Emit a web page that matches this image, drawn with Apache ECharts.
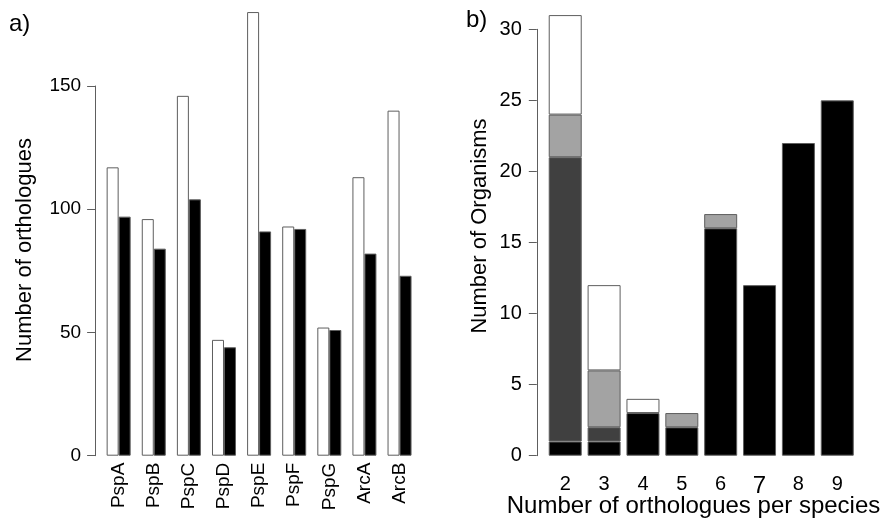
<!DOCTYPE html>
<html>
<head>
<meta charset="utf-8">
<script src="https://cdn.jsdelivr.net/npm/echarts@6/dist/echarts.min.js"></script>
<style>
html,body{margin:0;padding:0;background:#fff;}
#chart{width:889px;height:519px;}
</style>
</head>
<body>
<div id="chart"></div>
<script>
// Panel a) data
const proteinNames = ['PspA','PspB','PspC','PspD','PspE','PspF','PspG','ArcA','ArcB'];
const whiteCounts = [117, 96, 146, 47, 180, 93, 52, 113, 140];
const blackCounts = [97, 84, 104, 44, 91, 92, 51, 82, 73];
const leftTicks = [0, 50, 100, 150];

// Panel b) data (stacked, bottom to top)
const orthoPerSpecies = ['2','3','4','5','6','7','8','9'];
const segBlack = [1, 1, 3, 2, 16, 12, 22, 25];
const segDarkGray = [20, 1, null, null, null, null, null, null];
const segLightGray = [3, 4, null, 1, 1, null, null, null];
const segWhite = [7, 6, 1, null, null, null, null, null];
const rightTicks = [0, 5, 10, 15, 20, 25, 30];

const FONT = '"Liberation Sans", Arial, Helvetica, sans-serif';
const EDGE = '#5e5e5e';

const chart = echarts.init(document.getElementById('chart'), null, {renderer: 'canvas'});

function barStyle(color) {
  return {color: color, borderColor: EDGE, borderWidth: 1};
}

const option = {
  animation: false,
  backgroundColor: '#ffffff',
  textStyle: {fontFamily: FONT},
  grid: [
    {left: 101.1, width: 316, top: 86, height: 369.7},
    {left: 545.8, width: 310.9, top: 29.3, height: 426.4}
  ],
  xAxis: [
    {
      type: 'category', gridIndex: 0, data: proteinNames,
      axisLine: {show: false}, axisTick: {show: false},
      axisLabel: {interval: 0, rotate: 90, margin: 7, fontSize: 19, color: '#000', fontFamily: FONT}
    },
    {
      type: 'category', gridIndex: 1, data: orthoPerSpecies,
      axisLine: {show: false}, axisTick: {show: false},
      axisLabel: {
        interval: 0, margin: 19, fontSize: 20, color: '#000', fontFamily: FONT,
        formatter: function (v) { return v === '7' ? '{big|' + v + '}' : v; },
        rich: {big: {fontSize: 24, color: '#000', fontFamily: FONT}}
      }
    }
  ],
  yAxis: [
    {
      type: 'value', gridIndex: 0, min: leftTicks[0], max: leftTicks[leftTicks.length - 1], interval: 50,
      offset: 6,
      splitLine: {show: false},
      axisLine: {show: true, lineStyle: {color: EDGE, width: 1}},
      axisTick: {show: true, length: 8, lineStyle: {color: EDGE, width: 1}},
      axisLabel: {margin: 14, fontSize: 19, color: '#000', fontFamily: FONT}
    },
    {
      type: 'value', gridIndex: 1, min: rightTicks[0], max: rightTicks[rightTicks.length - 1], interval: 5,
      offset: 9,
      splitLine: {show: false},
      axisLine: {show: true, lineStyle: {color: EDGE, width: 1}},
      axisTick: {show: true, length: 8, lineStyle: {color: EDGE, width: 1}},
      axisLabel: {margin: 15, fontSize: 20, color: '#000', fontFamily: FONT}
    }
  ],
  series: [
    {type: 'bar', xAxisIndex: 0, yAxisIndex: 0, data: whiteCounts, barWidth: 12, barGap: '0%', clip: false, itemStyle: barStyle('#ffffff')},
    {type: 'bar', xAxisIndex: 0, yAxisIndex: 0, data: blackCounts, barWidth: 12, barGap: '0%', clip: false, itemStyle: barStyle('#000000')},
    {type: 'bar', xAxisIndex: 1, yAxisIndex: 1, stack: 'b', data: segBlack, barWidth: 33, clip: false, itemStyle: barStyle('#000000')},
    {type: 'bar', xAxisIndex: 1, yAxisIndex: 1, stack: 'b', data: segDarkGray, barWidth: 33, clip: false, itemStyle: barStyle('#404040')},
    {type: 'bar', xAxisIndex: 1, yAxisIndex: 1, stack: 'b', data: segLightGray, barWidth: 33, clip: false, itemStyle: barStyle('#a3a3a3')},
    {type: 'bar', xAxisIndex: 1, yAxisIndex: 1, stack: 'b', data: segWhite, barWidth: 33, clip: false, itemStyle: barStyle('#ffffff')}
  ],
  graphic: [
    {type: 'text', left: 9, top: 12, style: {text: 'a)', fontSize: 24, fill: '#000', fontFamily: FONT}},
    {type: 'text', left: 466, top: 8, style: {text: 'b)', fontSize: 24, fill: '#000', fontFamily: FONT}},
    {type: 'text', x: 25, y: 250, rotation: Math.PI / 2,
      style: {text: 'Number of orthologues', fontSize: 22, fill: '#000', fontFamily: FONT, align: 'center', verticalAlign: 'middle'}},
    {type: 'text', x: 480, y: 226, rotation: Math.PI / 2,
      style: {text: 'Number of Organisms', fontSize: 22, fill: '#000', fontFamily: FONT, align: 'center', verticalAlign: 'middle'}},
    {type: 'text', x: 693.5, y: 506,
      style: {text: 'Number of orthologues per species', fontSize: 24, fill: '#000', fontFamily: FONT, align: 'center', verticalAlign: 'middle'}}
  ]
};
chart.setOption(option);
</script>
</body>
</html>
